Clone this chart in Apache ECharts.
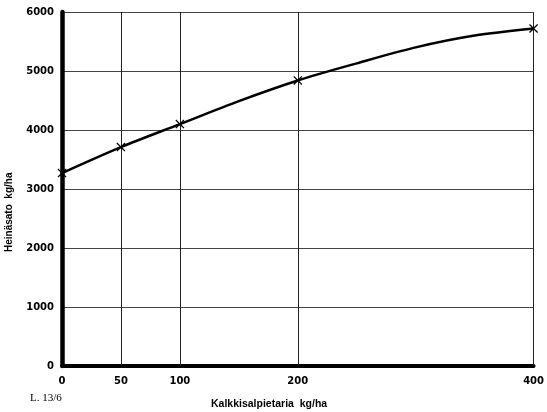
<!DOCTYPE html>
<html><head><meta charset="utf-8">
<script src="https://cdn.jsdelivr.net/npm/echarts@6/dist/echarts.min.js"></script>
<style>html,body{margin:0;padding:0;background:#fff}#c{width:547px;height:412px}</style>
</head><body><div id="c"></div>
<script>
// measured points (marked with crosses)
const xValues = [0, 50, 100, 200, 400];
const yValues = [3270, 3710, 4100, 4840, 5720];
const curveX = [0, 50, 100, 150, 200, 250, 300, 350, 400];
const curveY = [3270, 3710, 4100, 4490, 4840, 5130, 5400, 5600, 5720];
const xTickLabels = [0, 50, 100, 200, 400];
const xGridValues = [50, 100, 200, 400];
const yTickLabels = [0, 1000, 2000, 3000, 4000, 5000, 6000];

const chart = echarts.init(document.getElementById('c'));
const font = 'Liberation Sans, Arial, sans-serif';
const tickFont = 'DejaVu Sans, sans-serif';
chart.setOption({
  animation: false,
  backgroundColor: '#fff',
  grid: {left: 62, right: 6, top: 12, bottom: 46},
  xAxis: {
    type: 'value', min: 0, max: 400, interval: 50,
    axisLine: {show: true, onZero: false, lineStyle: {color: '#000', width: 4}},
    axisTick: {show: false},
    splitLine: {show: false},
    axisLabel: {
      customValues: xTickLabels,
      color: '#000', fontFamily: tickFont, fontWeight: 'bold', fontSize: 10, margin: 10
    }
  },
  yAxis: {
    type: 'value', min: 0, max: 6000, interval: 1000,
    axisLine: {show: true, lineStyle: {color: '#000', width: 4.5}},
    axisTick: {show: false},
    splitLine: {show: true, lineStyle: {color: '#444', width: 1}},
    axisLabel: {color: '#000', fontFamily: tickFont, fontWeight: 'bold', fontSize: 10, margin: 8,
      formatter: v => yTickLabels.includes(v) ? String(v) : ''}
  },
  graphic: [
    {type: 'text', left: 211, top: 399, style: {text: 'Kalkkisalpietaria  kg/ha', font: 'bold 10.5px ' + font, fill: '#000'}},
    {type: 'text', x: 4, y: 252, rotation: Math.PI / 2, style: {text: 'Heinäsato  kg/ha', font: 'bold 10px ' + font, fill: '#000'}},
    {type: 'text', left: 30, top: 393, style: {text: 'L. 13/6', font: '11px Liberation Serif, serif', fill: '#000'}}
  ],
  series: [{
    type: 'line',
    data: curveX.map((x, i) => [x, curveY[i]]),
    smooth: 0.3,
    lineStyle: {color: '#000', width: 2.5},
    showSymbol: false,
    symbol: 'none',
    markLine: {
      silent: true, symbol: 'none', label: {show: false},
      lineStyle: {color: '#222', width: 1, type: 'solid'},
      data: xGridValues.map(v => ({xAxis: v}))
    },
    z: 5
  }, {
    type: 'line',
    data: xValues.map((x, i) => [x, yValues[i]]),
    lineStyle: {width: 0, opacity: 0},
    symbol: 'path://M0,1L1,0L5,4L9,0L10,1L6,5L10,9L9,10L5,6L1,10L0,9L4,5Z',
    symbolSize: 9,
    showSymbol: true,
    itemStyle: {color: '#000'},
    z: 6
  }]
});
</script></body></html>
